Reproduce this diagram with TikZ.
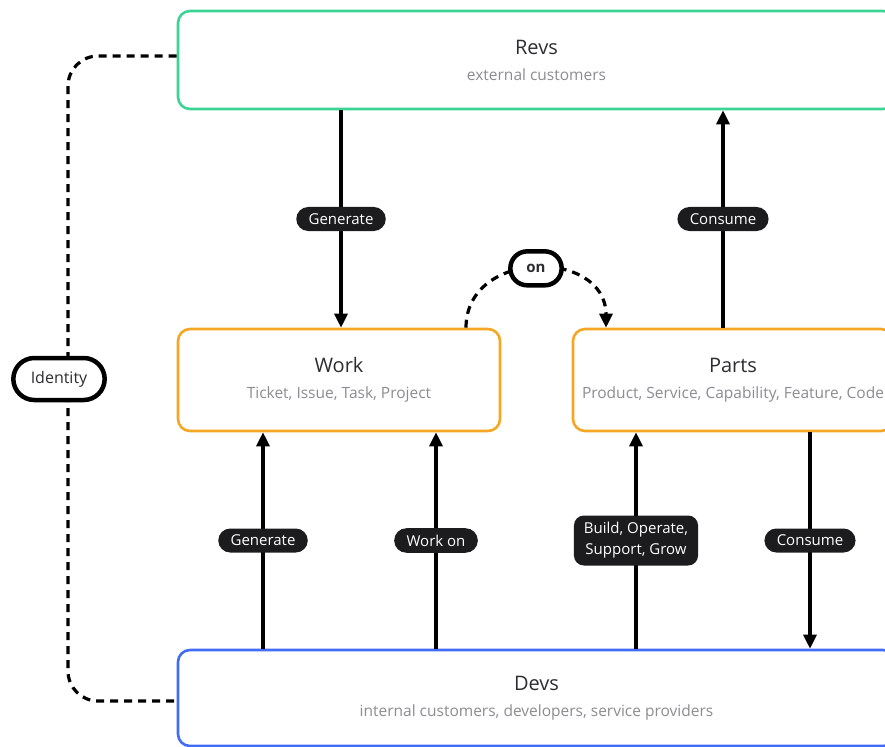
\documentclass[tikz,border=0pt]{standalone}
\usepackage{fontspec}
\setmainfont{Open Sans}
\usetikzlibrary{arrows.meta,shapes.misc}
\definecolor{revgreen}{RGB}{58,212,150}
\definecolor{workorange}{RGB}{245,166,35}
\definecolor{devblue}{RGB}{66,108,245}
\definecolor{tagblack}{RGB}{28,28,30}
\definecolor{titlegray}{RGB}{45,45,48}
\definecolor{subgray}{RGB}{140,140,146}
\newcommand{\subtxt}[1]{{\color{subgray}\fontsize{15.5}{18}\selectfont #1}}
\begin{document}
\begin{tikzpicture}
[x=1pt,y=-1pt,
box/.style={draw,line width=2.6pt,rounded corners=12pt,fill=white,align=center,
  text=titlegray,font=\fontsize{20}{26}\selectfont},
tag/.style={fill=tagblack,text=white,rounded rectangle,inner xsep=11pt,inner ysep=6.5pt,
  font=\fontsize{15}{18}\selectfont},
tagbox/.style={fill=tagblack,text=white,rounded corners=10pt,inner xsep=10pt,inner ysep=7pt,
  align=center,font=\fontsize{15}{21}\selectfont},
pill/.style={solid,draw=black,fill=white,line width=4.5pt,rounded rectangle,
  text=titlegray},
flow/.style={line width=3.2pt,-{Triangle[length=14pt,width=13pt]}},
dashflow/.style={line width=3.2pt,dash pattern=on 8pt off 6pt,-{Triangle[length=14pt,width=13pt]}}
]
\useasboundingbox (0,0) rectangle (885,746);
\clip (0,0) rectangle (885,746);

% the four boxes
\node[box,draw=revgreen,minimum width=717,minimum height=98] (revs) at (536.5,60)
  {Revs\\\subtxt{external customers}};
\node[box,draw=workorange,minimum width=322,minimum height=102] (work) at (339,380)
  {Work\\\subtxt{Ticket, Issue, Task, Project}};
\node[box,draw=workorange,minimum width=320,minimum height=102] (parts) at (733,380)
  {Parts\\\subtxt{Product, Service, Capability, Feature, Code}};
\node[box,draw=devblue,minimum width=717,minimum height=96] (devs) at (536.5,698)
  {Devs\\\subtxt{internal customers, developers, service providers}};

% points where the connectors meet the boxes
\coordinate (w0) at ([xshift=2]work.north);
\coordinate (w1) at ([xshift=-76]work.south);
\coordinate (w2) at ([xshift=97]work.south);
\coordinate (p0) at ([xshift=-10]parts.north);
\coordinate (p1) at ([xshift=-97]parts.south);
\coordinate (p2) at ([xshift=77]parts.south);
\coordinate (onA) at ([xshift=127]work.north);
\coordinate (onB) at ([xshift=-127]parts.north);
\coordinate (idpt) at (68,379);

% connectors
\draw[flow] (w0 |- revs.south) -- node[tag] (gen1) {Generate} (w0);
\draw[flow] (p0) -- node[tag] (con1) {Consume} (p0 |- revs.south);
\draw[flow] (w1 |- devs.north) -- node[tag] (gen2) {Generate} (w1);
\draw[flow] (w2 |- devs.north) -- node[tag] (wrk) {Work on} (w2);
\draw[flow] (p1 |- devs.north) -- node[tagbox] (bld) {Build, Operate,\\Support, Grow} (p1);
\draw[flow] (p2) -- node[tag] (con2) {Consume} (p2 |- devs.north);

\draw[dashflow] (onA) to[out=90,in=90,looseness=1.45]
  node[pill,minimum width=58,minimum height=34,font=\fontsize{15}{18}\selectfont\bfseries] (on) {on} (onB);

\draw[line width=3.2pt,dash pattern=on 8pt off 6pt,rounded corners=30pt]
  ([yshift=4]revs.west) -| (idpt) |- ([yshift=-3]devs.west);
\node[pill,minimum width=98,minimum height=42,font=\fontsize{16}{18}\selectfont] (ident)
  at ([xshift=-9]idpt) {Identity};
\end{tikzpicture}
\end{document}
